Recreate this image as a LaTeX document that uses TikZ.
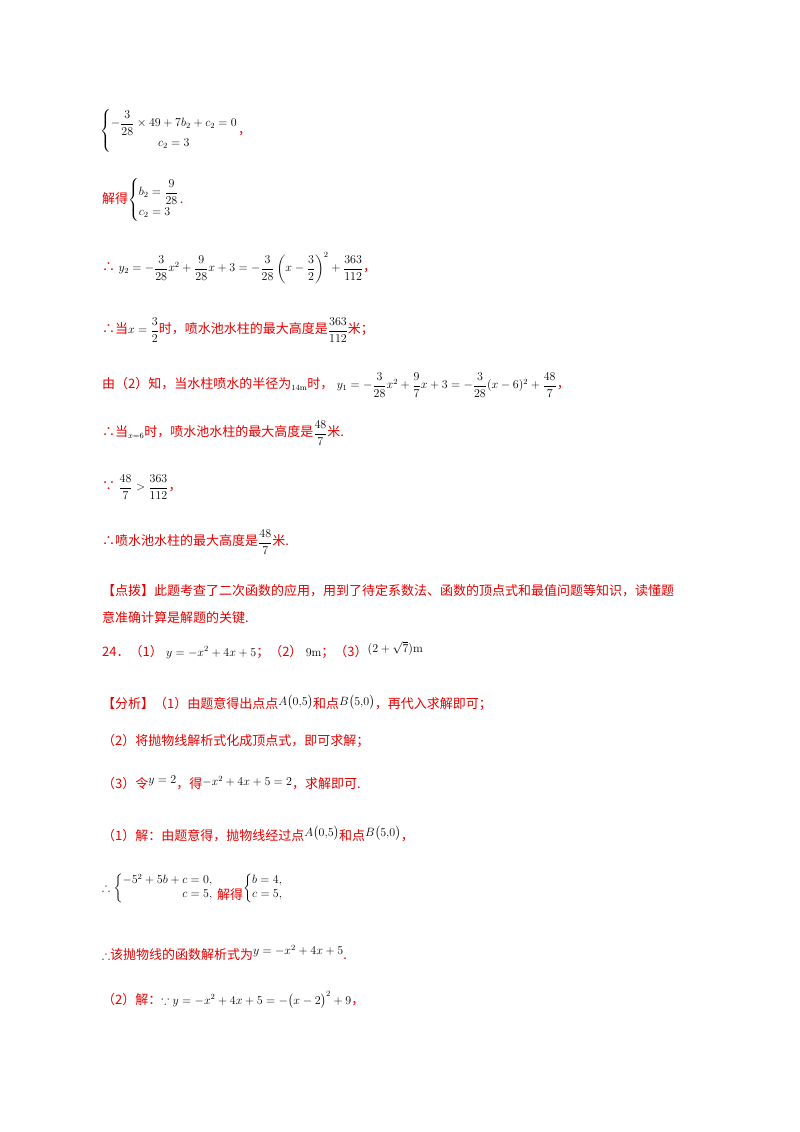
\documentclass[tikz,border=0pt]{standalone}
\usepackage{fontspec}
\usepackage{amsmath,amssymb}
\newfontfamily\cjk{Noto Sans CJK SC}
\definecolor{hred}{RGB}{230,0,0}
\newcommand{\zh}[1]{{\color{hred}\cjk\fontsize{13}{15}\selectfont #1}}
\begin{document}
\begin{tikzpicture}[x=1pt,y=-1pt,
  ln/.style={anchor=west,inner sep=0pt,font=\fontsize{12}{14}\selectfont}]
\useasboundingbox[fill=white] (0,0) rectangle (800,1132);
\node[ln] (l1) at (100,131) {$\left\{\begin{array}{@{}c@{}}-\dfrac{3}{28}\times49+7b_2+c_2=0\\[6pt] c_2=3\end{array}\right.$\zh{，}};
\node[ln] (l2) at (102,200) {\zh{解得}$\left\{\begin{array}{@{}l@{}}b_2=\dfrac{9}{28}\\[6pt] c_2=3\end{array}\right.$\zh{.}};
\node[ln] (l3) at (102,268) {\zh{∴}\;$y_2=-\dfrac{3}{28}x^2+\dfrac{9}{28}x+3=-\dfrac{3}{28}\left(x-\dfrac{3}{2}\right)^2+\dfrac{363}{112}$\zh{，}};
\node[ln] (l4) at (102,330) {\zh{∴当}$x=\dfrac{3}{2}$\zh{时，喷水池水柱的最大高度是}$\dfrac{363}{112}$\zh{米；}};
\node[ln] (l5) at (102,385) {\zh{由（2）知，当水柱喷水的半径为}$_{\text{14m}}$\zh{时，}\;$y_1=-\dfrac{3}{28}x^2+\dfrac{9}{7}x+3=-\dfrac{3}{28}(x-6)^2+\dfrac{48}{7}$\zh{，}};
\node[ln] (l6) at (102,433) {\zh{∴当}$_{x=6}$\zh{时，喷水池水柱的最大高度是}$\dfrac{48}{7}$\zh{米.}};
\node[ln] (l7) at (102,487) {\zh{∵}\;$\dfrac{48}{7}>\dfrac{363}{112}$\zh{，}};
\node[ln] (l8) at (102,542) {\zh{∴喷水池水柱的最大高度是}$\dfrac{48}{7}$\zh{米.}};
\node[ln] (l9) at (102,591) {\zh{【点拨】此题考查了二次函数的应用，用到了待定系数法、函数的顶点式和最值问题等知识，读懂题}};
\node[ln] (l10) at (102,618) {\zh{意准确计算是解题的关键.}};
\node[ln] (l11) at (102,650) {\zh{24．（1）}\;$y=-x^2+4x+5$\zh{；（2）}\;$9\mathrm{m}$\zh{；（3）}\raisebox{4pt}{$(2+\sqrt{7})\mathrm{m}$}};
\node[ln] (l12) at (102,703) {\zh{【分析】（1）由题意得出点点}\raisebox{3pt}{$A\big(0{,}5\big)$}\zh{和点}\raisebox{3pt}{$B\big(5{,}0\big)$}\zh{，再代入求解即可；}};
\node[ln] (l13) at (102,741) {\zh{（2）将抛物线解析式化成顶点式，即可求解；}};
\node[ln] (l14) at (102,783) {\zh{（3）令}\raisebox{5pt}{$y=2$}\zh{，得}\raisebox{3pt}{$-x^2+4x+5=2$}\zh{，求解即可.}};
\node[ln] (l15) at (102,834) {\zh{（1）解：由题意得，抛物线经过点}\raisebox{4pt}{$A\big(0{,}5\big)$}\zh{和点}\raisebox{4pt}{$B\big(5{,}0\big)$}\zh{，}};
\node[ln] (l16) at (102,888) {$\therefore\left\{\begin{array}{@{}r@{}}-5^2+5b+c=0,\\ c=5,\end{array}\right.$\raisebox{-8pt}{\zh{\;解得}}$\left\{\begin{array}{@{}l@{}}b=4,\\ c=5,\end{array}\right.$};
\node[ln] (l17) at (102,953) {$\therefore$\zh{该抛物线的函数解析式为}\raisebox{5pt}{$y=-x^2+4x+5$}\zh{.}};
\node[ln] (l18) at (102,1000) {\zh{（2）解：}$\because y=-x^2+4x+5=-\big(x-2\big)^2+9$\zh{，}};
\end{tikzpicture}
\end{document}
